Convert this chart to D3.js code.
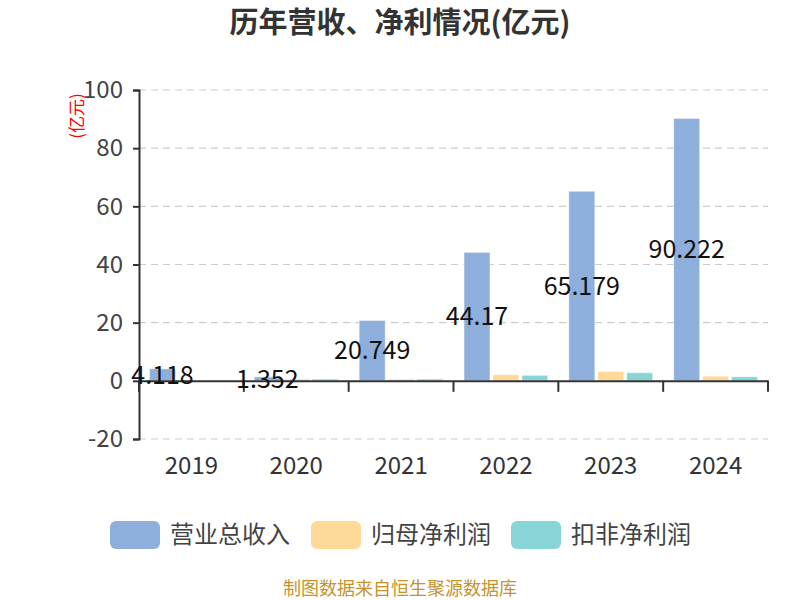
<!DOCTYPE html>
<html>
<head>
<meta charset="utf-8">
<script src="https://cdn.jsdelivr.net/npm/d3@7"></script>
<style>
  body { margin: 0; background: #fff; }
  svg { font-family: "Noto Sans CJK SC", "Noto Sans", sans-serif; }
</style>
</head>
<body>
<svg id="chart" width="800" height="600"></svg>
<script>
const years = ["2019", "2020", "2021", "2022", "2023", "2024"];
const revenue = [4.118, 1.352, 20.749, 44.17, 65.179, 90.222];
const netProfit = [0.1, 0.6, 0.6, 2.1, 3.2, 1.6];
const deductedProfit = [0.05, 0.6, 0.6, 1.9, 2.8, 1.4];
const seriesNames = ["营业总收入", "归母净利润", "扣非净利润"];
const colors = ["#8eaedb", "#ffd998", "#88d5d8"];
const yTicks = [-20, 0, 20, 40, 60, 80, 100];

var svg = d3.select("#chart");
var plotLeft = 139, plotRight = 768, plotTop = 90, plotBottom = 439;

var x = d3.scaleBand().domain(years).range([plotLeft, plotRight]);
var x1 = d3.scaleBand().domain([0, 1, 2]).range([10.5, x.bandwidth() - 10.5]).paddingInner(0.1);
var y = d3.scaleLinear().domain([-20, 100]).range([plotBottom, plotTop]);

// title
svg.append("text").attr("x", 400).attr("y", 33).attr("text-anchor", "middle")
  .attr("font-size", 29).attr("font-weight", "bold").attr("fill", "#333")
  .text("历年营收、净利情况(亿元)");

// grid
svg.append("g").selectAll("line").data(yTicks.filter(function(d) { return d != 0; })).enter().append("line")
  .attr("x1", plotLeft).attr("x2", plotRight).attr("y1", function(d) { return y(d); }).attr("y2", function(d) { return y(d); })
  .attr("stroke", "#ccc").attr("stroke-dasharray", "7,5").attr("stroke-width", 1.2);

// y axis
var yAxis = svg.append("g").attr("transform", "translate(" + plotLeft + ",0)")
  .call(d3.axisLeft(y).tickValues(yTicks).tickSize(6).tickPadding(10).tickFormat(function(d) { return String(d); }));
yAxis.select(".domain").attr("stroke", "#333").attr("stroke-width", 2);
yAxis.selectAll(".tick line").attr("stroke", "#333").attr("stroke-width", 2);
yAxis.selectAll(".tick text").attr("font-size", 24).attr("fill", "#444").attr("font-family", "Noto Sans CJK SC");

svg.append("text").attr("transform", "translate(77,116) rotate(-90)").attr("text-anchor", "middle")
  .attr("dy", "0.35em").attr("font-size", 17).attr("fill", "red").text("(亿元)");

// bars
var series = [revenue, netProfit, deductedProfit];
series.forEach(function(vals, si) {
  svg.append("g").selectAll("rect").data(vals).enter().append("rect")
    .attr("x", function(d, i) { return x(years[i]) + x1(si); })
    .attr("y", function(d) { return y(Math.max(d, 0)); })
    .attr("width", x1.bandwidth())
    .attr("height", function(d) { return Math.abs(y(d) - y(0)); })
    .attr("fill", colors[si])
    .attr("stroke", "rgba(255,255,255,0.5)").attr("stroke-width", 1);
});

// x axis at zero
var xAxis = svg.append("g").attr("transform", "translate(0," + y(0) + ")")
  .call(d3.axisBottom(x).tickSize(0).tickFormat(""));
xAxis.select(".domain").attr("stroke", "#333").attr("stroke-width", 2);
svg.append("g").selectAll("line").data(years.concat(["end"])).enter().append("line")
  .attr("x1", function(d, i) { return plotLeft + i * x.step(); })
  .attr("x2", function(d, i) { return plotLeft + i * x.step(); })
  .attr("y1", y(0)).attr("y2", y(0) + 11)
  .attr("stroke", "#333").attr("stroke-width", 2);

svg.append("g").selectAll("text").data(years).enter().append("text")
  .attr("x", function(d) { return x(d) + x.bandwidth() / 2; })
  .attr("y", 466).attr("dy", "0.35em").attr("text-anchor", "middle")
  .attr("font-size", 24).attr("fill", "#333").text(function(d) { return d; });

// revenue labels
svg.append("g").selectAll("text").data(revenue).enter().append("text")
  .attr("x", function(d, i) { return x(years[i]) + x1(0) + x1.bandwidth() / 2; })
  .attr("y", function(d) { return (y(d) + y(0)) / 2; })
  .attr("dy", "0.35em").attr("text-anchor", "middle")
  .attr("font-size", 25).attr("fill", "#111").text(function(d) { return d; });

// legend
var legendX = [110, 311, 511];
var lg = svg.append("g").selectAll("g").data(seriesNames).enter().append("g")
  .attr("transform", function(d, i) { return "translate(" + legendX[i] + ",521)"; });
lg.append("rect").attr("width", 50).attr("height", 28).attr("rx", 6)
  .attr("fill", function(d, i) { return colors[i]; });
lg.append("text").attr("x", 60).attr("y", 14).attr("dy", "0.35em")
  .attr("font-size", 24).attr("fill", "#444").text(function(d) { return d; });

svg.append("text").attr("x", 400).attr("y", 589).attr("dy", "0.35em").attr("text-anchor", "middle")
  .attr("font-size", 18).attr("fill", "#c8922a").text("制图数据来自恒生聚源数据库");
</script>
</body>
</html>
